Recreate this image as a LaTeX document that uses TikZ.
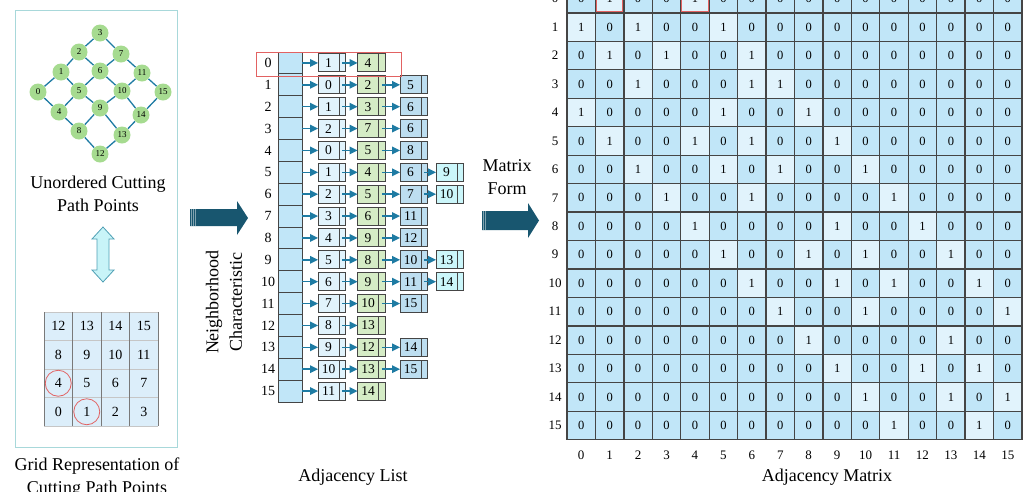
\documentclass[tikz,border=0pt]{standalone}
\usepackage{fontspec}
\setmainfont{Liberation Serif}
\usetikzlibrary{arrows.meta}

\definecolor{ptgreen}{HTML}{A6DB90}
\definecolor{edgeblue}{HTML}{1E7BA3}
\definecolor{cellblue}{HTML}{C1E6F8}
\definecolor{cellpale}{HTML}{E1F3FC}
\definecolor{boxgreen}{HTML}{D5ECC6}
\definecolor{boxmid}{HTML}{BDDEF0}
\definecolor{boxcyan}{HTML}{CBF6FA}
\definecolor{darkarrow}{HTML}{18566F}
\definecolor{framecyan}{HTML}{A8D8DA}
\definecolor{markred}{HTML}{E26262}
\definecolor{gridfill}{HTML}{DCEEFA}
\definecolor{linegray}{HTML}{454545}
\definecolor{paleaqua}{HTML}{C8F4F8}
\definecolor{aquaedge}{HTML}{4F9FB4}

\begin{document}
\begin{tikzpicture}[x=1pt,y=-1pt,
  caption/.style={font=\fontsize{18}{23.5}\selectfont,align=center},
  ptnode/.style={circle,fill=ptgreen,minimum size=17pt,inner sep=0pt,font=\fontsize{9}{9}\selectfont},
  pedge/.style={edgeblue,line width=1.3pt},
  gcell/.style={fill=gridfill,minimum size=28.5pt,inner sep=0pt,font=\fontsize{14}{14}\selectfont},
  ring/.style={draw=markred,circle,minimum size=26pt,inner sep=0pt,line width=0.8pt},
  idxcell/.style={draw=linegray,fill=cellblue,line width=1pt,minimum width=24pt,minimum height=21.875pt,inner sep=0pt,outer sep=0pt},
  idxlabel/.style={font=\fontsize{14}{14}\selectfont},
  listbox/.style={draw=linegray,line width=1pt,minimum width=21pt,minimum height=18pt,inner sep=0pt,outer sep=0pt,font=\fontsize{13.5}{13.5}\selectfont},
  listarrow/.style={edgeblue,line width=1.5pt,-{Triangle[length=8pt,width=7.5pt]}},
  mcell/.style={draw=linegray,line width=1.3pt,minimum width=28.44pt,minimum height=28.45pt,inner sep=0pt,font=\fontsize{12.5}{12.5}\selectfont},
  axlabel/.style={font=\fontsize{13}{13}\selectfont}]
\useasboundingbox (0,0) rectangle (1029,491);
\clip (0,0) rectangle (1029,491);

% left panel
\draw[framecyan,line width=1pt] (15,10) rectangle (177,447);
\foreach \n/\px/\py in {0/38/92,1/61/72,2/79/52,3/100/33,4/59/112,5/79/91,6/100/71,7/121/54,8/79/131,9/100/108,10/122/91,11/142/73,12/100/154,13/122/135,14/141/115,15/163/92}
  \node[ptnode] (p\n) at (\px,\py) {\n};
\foreach \a/\b in {0/1,0/4,1/2,1/5,2/3,2/6,3/7,4/5,4/8,5/6,5/9,6/7,6/10,7/11,8/9,8/12,9/10,9/13,10/11,10/14,11/15,12/13,13/14,14/15}
  \draw[pedge] (p\a) -- (p\b);
\node[caption] (capA) at (98,194) {Unordered Cutting\\Path Points};
\filldraw[fill=paleaqua,draw=aquaedge,line width=0.8pt] (103,227) -- (114,239) -- (109,239) -- (109,270) -- (114,270) -- (103,282) -- (92,270) -- (97,270) -- (97,239) -- (92,239) -- cycle;
% grid of points
\foreach \rr in {0,...,3}
  \foreach \cc in {0,...,3}{
    \pgfmathtruncatemacro\gn{(3-\rr)*4+\cc}
    \node[gcell] (g\gn) at ({58.25+\cc*28.5},{326.25+\rr*28.5}) {\gn};
  }
\foreach \k in {0,...,4} \draw[gray!45,line width=0.8pt] (44,{312+\k*28.5}) -- (158,{312+\k*28.5});
\foreach \k in {0,...,4} \draw[gray!95!black,line width=0.8pt] ({44+\k*28.5},312) -- ({44+\k*28.5},426);
\node[ring] (ring4) at (g4) {};
\node[ring] (ring1) at (g1) {};
\node[caption] (capB) at (97,477.75) {Grid Representation of\\Cutting Path Points};

% first arrow
\fill[darkarrow] (190,209) -- (237,209) -- (237,201) -- (248,218) -- (237,235) -- (237,226) -- (190,226) -- cycle;
\foreach \s in {191.5,193.5,195.5} \draw[white,opacity=0.45,line width=0.5pt] (\s,209) -- (\s,226);
\node[caption,rotate=90] (capC) at (224,302) {Neighborhood\\Characteristic};

% adjacency list
\foreach \r/\lst in {0/{1,4},1/{0,2,5},2/{1,3,6},3/{2,7,6},4/{0,5,8},5/{1,4,6,9},6/{2,5,7,10},7/{3,6,11},8/{4,9,12},9/{5,8,10,13},10/{6,9,11,14},11/{7,10,15},12/{8,13},13/{9,12,14},14/{10,13,15},15/{11,14}}{
  \pgfmathsetmacro\ry{62.94+\r*21.875}
  \node[idxcell] (idx\r) at (290,\ry) {};
  \node[idxlabel] (il\r) at (268,\ry) {\r};
  \foreach \v [count=\c] in \lst {
    \ifcase\c\or\def\bx{328.5}\def\boxfill{cellpale}\or\def\bx{368}\def\boxfill{boxgreen}\or\def\bx{410.5}\def\boxfill{boxmid}\or\def\bx{446.5}\def\boxfill{boxcyan}\fi
    \node[listbox,fill=\boxfill] (n\r-\c) at (\bx,\ry) {\v};
    \draw[linegray,line width=1pt,fill=\boxfill] (n\r-\c.north east) rectangle ++(6.5pt,-18pt);
    \coordinate (q\r-\c) at ([xshift=3.25pt]n\r-\c.east);
    \ifnum\c=1
      \draw[listarrow] (idx\r) -- (n\r-1);
    \else
      \pgfmathtruncatemacro\pc{\c-1}
      \draw[listarrow] (q\r-\pc) -- (n\r-\c);
    \fi
  }
}
\draw[markred,line width=0.8pt] (256,52) rectangle (401,76);
\node[caption] (capD) at (353,477) {Adjacency List};

% second arrow
\fill[darkarrow] (482,211) -- (528,211) -- (528,203) -- (539,220.5) -- (528,238) -- (528,230) -- (482,230) -- cycle;
\foreach \s in {483.5,485.5} \draw[white,opacity=0.45,line width=0.5pt] (\s,211) -- (\s,230);
\node[caption] (capE) at (507,177) {Matrix\\Form};

% adjacency matrix
\foreach \i/\rowvals in {0/{0,1,0,0,1,0,0,0,0,0,0,0,0,0,0,0},1/{1,0,1,0,0,1,0,0,0,0,0,0,0,0,0,0},2/{0,1,0,1,0,0,1,0,0,0,0,0,0,0,0,0},3/{0,0,1,0,0,0,1,1,0,0,0,0,0,0,0,0},4/{1,0,0,0,0,1,0,0,1,0,0,0,0,0,0,0},5/{0,1,0,0,1,0,1,0,0,1,0,0,0,0,0,0},6/{0,0,1,0,0,1,0,1,0,0,1,0,0,0,0,0},7/{0,0,0,1,0,0,1,0,0,0,0,1,0,0,0,0},8/{0,0,0,0,1,0,0,0,0,1,0,0,1,0,0,0},9/{0,0,0,0,0,1,0,0,1,0,1,0,0,1,0,0},10/{0,0,0,0,0,0,1,0,0,1,0,1,0,0,1,0},11/{0,0,0,0,0,0,0,1,0,0,1,0,0,0,0,1},12/{0,0,0,0,0,0,0,0,1,0,0,0,0,1,0,0},13/{0,0,0,0,0,0,0,0,0,1,0,0,1,0,1,0},14/{0,0,0,0,0,0,0,0,0,0,1,0,0,1,0,1},15/{0,0,0,0,0,0,0,0,0,0,0,1,0,0,1,0}}{
  \node[axlabel] (rl\i) at (555,{-1.3+\i*28.45}) {\i};
  \foreach \v [count=\jj from 0] in \rowvals {
    \ifnum\v=1 \def\cf{cellpale}\else\def\cf{cellblue}\fi
    \node[mcell,fill=\cf] (m\i-\jj) at ({581.2+\jj*28.44},{-1.3+\i*28.45}) {\v};
  }
}
\foreach \j in {0,...,15} \node[axlabel] (cl\j) at ({581.2+\j*28.44},455) {\j};
\node[draw=markred,line width=1pt,minimum size=26.5pt,inner sep=0pt] (hl1) at (m0-1) {};
\node[draw=markred,line width=1pt,minimum size=26.5pt,inner sep=0pt] (hl4) at (m0-4) {};
\node[caption] (capF) at (827,477) {Adjacency Matrix};
\end{tikzpicture}
\end{document}
